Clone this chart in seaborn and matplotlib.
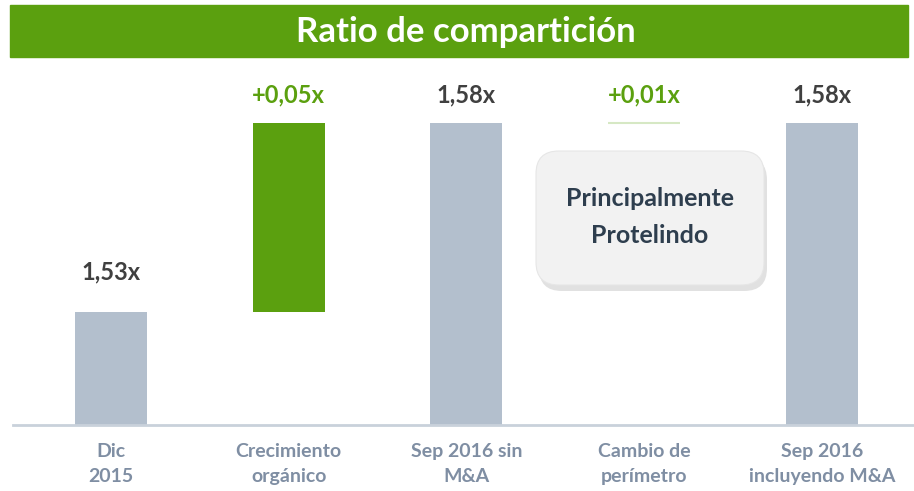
import pandas as pd
import matplotlib.pyplot as plt
import seaborn as sns
from matplotlib.patches import FancyBboxPatch, Rectangle

# Datos del gráfico
categories = ["Dic\n2015", "Crecimiento\norgánico", "Sep 2016 sin\nM&A",
              "Cambio de\nperímetro", "Sep 2016\nincluyendo M&A"]
dic_2015 = 1.53
crecimiento = 0.05
sep_sin = 1.58
cambio = 0.01
sep_incl = 1.58
labels = ["1,53x", "+0,05x", "1,58x", "+0,01x", "1,58x"]

GREY = "#B3BFCD"
GREEN = "#5BA00F"
LIGHT_GREEN = "#D6E8C4"
DARK = "#404040"
CAT = "#7F8EA3"


def main():
    sns.set_theme(style="white")
    plt.rcParams["font.family"] = ["Lato", "DejaVu Sans"]

    fig = plt.figure(figsize=(9.14, 4.91), dpi=100)
    ax = fig.add_axes([13 / 914, 66 / 491, 1 - 13 / 914, 368 / 491])

    # Barras de totales
    totals = pd.DataFrame({"cat": [categories[0], categories[2], categories[4]],
                           "val": [dic_2015, sep_sin, sep_incl]})
    width = 0.405
    sns.barplot(data=totals, x="cat", y="val", order=categories, color=GREY,
                width=width, linewidth=0, saturation=1, ax=ax)

    # Pasos intermedios
    ax.bar(1, crecimiento, bottom=dic_2015, width=width, color=GREEN, linewidth=0)
    # el cambio de perímetro no mueve el total redondeado (1,58x -> 1,58x)
    ax.hlines(sep_sin, 3 - width / 2, 3 + width / 2, color=LIGHT_GREEN, lw=1.5)

    ax.set_ylim(1.50, 1.5975)
    ax.set_xlim(-0.551, 4.518)

    # Etiquetas de valor
    tops = [dic_2015, dic_2015 + crecimiento, sep_sin, sep_sin, sep_incl]
    for i, (top, lab) in enumerate(zip(tops, labels)):
        color = GREEN if lab.startswith("+") else DARK
        off = 40 if i == 0 else 28
        ax.annotate(lab, (i, top), xytext=(0, off), textcoords="offset pixels",
                    ha="center", va="center", fontsize=17, fontweight="bold",
                    color=color)

    ax.set_xlabel("")
    ax.set_ylabel("")
    ax.set_yticks([])
    ax.set_xticks(range(len(categories)))
    ax.set_xticklabels(categories, fontsize=14, fontweight="bold", color=CAT,
                       linespacing=1.6)
    ax.tick_params(axis="x", length=0, pad=13)
    sns.despine(ax=ax, left=True)
    ax.spines["bottom"].set_color("#C9D1DB")
    ax.spines["bottom"].set_linewidth(2)

    # Banda del título
    fig.patches.append(Rectangle((10 / 914, 434 / 491), 898 / 914, 52 / 491,
                                 transform=fig.transFigure, color=GREEN, zorder=0))
    fig.text(466 / 914, 459 / 491, "Ratio de compartición", ha="center",
             va="center", color="white", fontsize=25, fontweight="bold")

    # Cuadro de nota con sombra
    bx, by, bw, bh = 536 / 914, 206 / 491, 228 / 914, 134 / 491
    shadow = FancyBboxPatch((bx + 3 / 914, by - 6 / 491), bw, bh,
                            boxstyle="round,pad=0,rounding_size=0.025",
                            transform=fig.transFigure, facecolor="#C4C4C4",
                            edgecolor="none", alpha=0.5, mutation_aspect=1.86)
    box = FancyBboxPatch((bx, by), bw, bh,
                         boxstyle="round,pad=0,rounding_size=0.025",
                         transform=fig.transFigure, facecolor="#F2F2F2",
                         edgecolor="#E6E6E6", lw=0.8, mutation_aspect=1.86)
    fig.patches.extend([shadow, box])
    fig.text(bx + bw / 2, by + bh / 2 + 1 / 491, "Principalmente\nProtelindo",
             ha="center", va="center", fontsize=18, fontweight="bold",
             color="#2E3E4E", linespacing=1.75)

    fig.savefig("out.png", dpi=100, facecolor="white")


if __name__ == "__main__":
    main()
